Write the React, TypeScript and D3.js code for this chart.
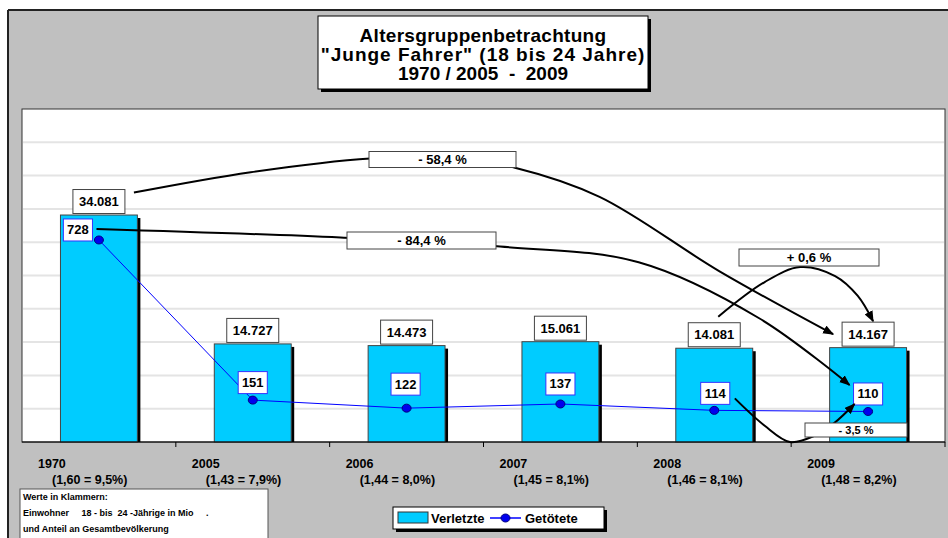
import React from "react";
import * as d3 from "d3";

// Verunglückte junge Fahrer (18-24)
const years = ["1970", "2005", "2006", "2007", "2008", "2009"];
const residents = ["(1,60 = 9,5%)", "(1,43 = 7,9%)", "(1,44 = 8,0%)", "(1,45 = 8,1%)", "(1,46 = 8,1%)", "(1,48 = 8,2%)"];
const injured = [34081, 14727, 14473, 15061, 14081, 14167];
const killed = [728, 151, 122, 137, 114, 110];
const titleLines = ["Altersgruppenbetrachtung", "\"Junge Fahrer\" (18 bis 24 Jahre)", "1970 / 2005  -  2009"];
const changeLabels = ["- 58,4 %", "- 84,4 %", "+ 0,6 %", "- 3,5 %"];
const noteLines = ["Werte in Klammern:", "Einwohner     18 - bis  24 -Jährige in Mio     .", "und Anteil an Gesamtbevölkerung"];
const legendLabels = ["Verletzte", "Getötete"];

const W = 948;
const H = 538;
const plot = { left: 22, right: 945, top: 109, bottom: 442 };
const font = "'Liberation Sans', Arial, Helvetica, sans-serif";
const cyan = "#00ccff";
const blue = "#0000ff";

const de = d3.formatLocale({ decimal: ",", thousands: ".", grouping: [3], currency: ["", " €"] });
const fmt = de.format(",d");

// label box placement for the Getötete values (offset from the point)
const killedShift = [[-21, -10], [0, -17.5], [-1, -24], [0, -20], [1, -17], [0, -17.5]];
const titleSpacing = [0.3, 1, 0];

// percentage boxes: centre, size, font size
const changeBoxes = [
  { cx: 442.5, cy: 159.5, w: 147, h: 16, fs: 13 },
  { cx: 421.5, cy: 240.5, w: 149, h: 17, fs: 13 },
  { cx: 809, cy: 257.5, w: 140, h: 17, fs: 13 },
  { cx: 856, cy: 430, w: 102, h: 14, fs: 11 },
];

export default function App() {
  const x = d3.scaleBand().domain(years).range([plot.left, plot.right]).paddingInner(0.5).paddingOuter(0.25);
  const y = d3.scaleLinear().domain([0, 50000]).range([plot.bottom, plot.top]);
  const y2 = d3.scaleLinear().domain([0, 1200]).range([plot.bottom, plot.top]);
  const bw = x.bandwidth();
  const step = (plot.right - plot.left) / years.length;
  const cx = (yr: string) => (x(yr) as number) + bw / 2;

  const barBox = years.map((yr, i) => {
    const t = fmt(injured[i]);
    const w = 52;
    const bottom = y(injured[i]) - 1.5;
    const c = cx(yr);
    return { t, c, left: c - w / 2, right: c + w / 2, top: bottom - 24, bottom, cy: bottom - 12, w };
  });
  const killBox = years.map((yr, i) => {
    const t = String(killed[i]);
    const w = t.length * 7.2 + 7.5;
    const c = cx(yr) + killedShift[i][0];
    const cy = y2(killed[i]) + killedShift[i][1];
    return { t, c, cy, left: c - w / 2, right: c + w / 2, top: cy - 11, bottom: cy + 11, w };
  });

  // connectors between labels: start, end and bends as [t along chord, offset]
  const connectors = [
    {
      s: [barBox[0].right + 9, barBox[0].cy - 9], e: [barBox[5].left - 9, barBox[5].cy],
      via: [[0.167, -44], [0.338, -82], [0.452, -99], [0.545, -102], [0.666, -90], [0.837, -40]],
    },
    {
      s: [killBox[0].right + 4, killBox[0].cy - 1], e: [killBox[5].left - 4, killBox[5].cy - 9],
      via: [[0.324, -42], [0.536, -66], [0.72, -79], [0.88, -48]],
    },
    {
      s: [barBox[4].c + 4, barBox[4].top - 6], e: [barBox[5].c + 5, barBox[5].top - 1],
      via: [[0.3, -36], [0.529, -52], [0.755, -44], [0.9, -25]],
    },
    {
      s: [killBox[4].right + 5, killBox[4].cy + 5], e: [killBox[5].left + 1, killBox[5].bottom - 1],
      via: [[0.25, 26], [0.46, 41], [0.66, 34], [0.83, 20]],
    },
  ];
  const curve = d3.line().curve(d3.curveCatmullRom.alpha(0.5));
  const connPaths = connectors.map((c) => {
    const dx = c.e[0] - c.s[0];
    const dy = c.e[1] - c.s[1];
    const pts: [number, number][] = [[c.s[0], c.s[1]]];
    c.via.forEach(([t, o]) => pts.push([c.s[0] + t * dx, c.s[1] + t * dy + o]));
    pts.push([c.e[0], c.e[1]]);
    return curve(pts) as string;
  });

  const killedLine = d3.line<number>().x((d, i) => cx(years[i])).y((d) => y2(d))(killed) as string;
  const grid = y.ticks(10).filter((v) => v > 0 && v < 50000);

  const bold = { fontFamily: font, fontWeight: "bold" as const };

  return (
    <div>
      <style>{"body{margin:0}"}</style>
      <svg width={W} height={H} style={{ display: "block" }}>
        <defs>
          <marker id="arr" viewBox="0 0 10 8" refX="9" refY="4" markerWidth="11" markerHeight="9" markerUnits="userSpaceOnUse" orient="auto">
            <path d="M0,0 L10,4 L0,8 z" fill="#000" />
          </marker>
        </defs>
        <rect x={0} y={0} width={W} height={H} fill="#fff" />
        <rect x={8} y={10} width={W} height={H} fill="#c0c0c0" />
        <line x1={8} y1={10} x2={W} y2={10} stroke="#222" strokeWidth={2} />
        <line x1={8} y1={10} x2={8} y2={H} stroke="#222" strokeWidth={2} />

        {/* title */}
        <rect x={321} y={19} width={330} height={73} fill="#000" />
        <rect x={318} y={16} width={330} height={73} fill="#fff" stroke="#000" strokeWidth={1} />
        {titleLines.map((t, i) => (
          <text key={i} x={483} y={41.5 + i * 19.3} textAnchor="middle" fontSize={19}
            letterSpacing={titleSpacing[i]} style={{ ...bold, whiteSpace: "pre" }}>
            {t}
          </text>
        ))}

        {/* plot area */}
        <rect x={plot.left} y={plot.top} width={plot.right - plot.left} height={plot.bottom - plot.top} fill="#fff" stroke="#333" strokeWidth={1} />
        {grid.map((v) => (
          <line key={v} x1={plot.left + 1} x2={plot.right - 1} y1={y(v)} y2={y(v)} stroke="#e4e4e4" strokeWidth={2} />
        ))}

        {/* bars */}
        {years.map((yr, i) => (
          <g key={yr}>
            <rect x={(x(yr) as number) + 3} y={y(injured[i]) + 3} width={bw} height={plot.bottom - y(injured[i]) - 3} fill="#000" />
            <rect x={x(yr)} y={y(injured[i])} width={bw} height={plot.bottom - y(injured[i])} fill={cyan} stroke="#444" strokeWidth={1} />
          </g>
        ))}

        {/* x axis */}
        <line x1={plot.left} x2={plot.right} y1={plot.bottom} y2={plot.bottom} stroke="#000" strokeWidth={1.2} />
        {years.map((yr, i) => (
          <line key={yr} x1={plot.left + (i + 1) * step} x2={plot.left + (i + 1) * step} y1={plot.bottom} y2={plot.bottom + 5} stroke="#000" />
        ))}
        {years.map((yr, i) => (
          <g key={yr} fontSize={12.5} style={bold}>
            <text x={plot.left + i * step + 16} y={468}>{yr}</text>
            <text x={plot.left + i * step + 30} y={484}>{residents[i]}</text>
          </g>
        ))}

        {/* killed line */}
        <path d={killedLine} fill="none" stroke={blue} strokeWidth={1} />
        {killed.map((v, i) => (
          <ellipse key={i} cx={cx(years[i])} cy={y2(v)} rx={4.5} ry={4} fill="#0000ee" stroke="#000080" strokeWidth={1} />
        ))}

        {/* bar value labels */}
        {barBox.map((b, i) => (
          <g key={i}>
            <rect x={b.left} y={b.top} width={b.w} height={24} fill="#fff" stroke="#444" strokeWidth={1} />
            <text x={b.c} y={b.cy + 4.5} textAnchor="middle" fontSize={13} style={bold}>{b.t}</text>
          </g>
        ))}
        {killBox.map((b, i) => (
          <g key={i}>
            <rect x={b.left} y={b.top} width={b.w} height={22} fill="#fff" stroke="#3333ff" strokeWidth={1} />
            <text x={b.c} y={b.cy + 4.5} textAnchor="middle" fontSize={13} style={bold}>{b.t}</text>
          </g>
        ))}

        {/* change connectors */}
        {connPaths.map((d, i) => (
          <path key={i} d={d} fill="none" stroke="#000" strokeWidth={2} markerEnd="url(#arr)" />
        ))}
        {changeBoxes.map((b, i) => (
          <g key={i}>
            <rect x={b.cx - b.w / 2} y={b.cy - b.h / 2} width={b.w} height={b.h} fill="#fff" stroke="#444" strokeWidth={1} />
            <text x={b.cx} y={b.cy + b.fs * 0.36} textAnchor="middle" fontSize={b.fs} style={bold}>{changeLabels[i]}</text>
          </g>
        ))}

        {/* note */}
        <rect x={20} y={489} width={248} height={60} fill="#fff" stroke="#555" strokeWidth={1} />
        {noteLines.map((t, i) => (
          <text key={i} x={23} y={500 + i * 16} fontSize={9} style={{ ...bold, whiteSpace: "pre" }}>{t}</text>
        ))}

        {/* legend */}
        <rect x={396} y={510} width={211} height={22} fill="#000" />
        <rect x={393} y={507} width={211} height={22} fill="#fff" stroke="#000" strokeWidth={1} />
        <rect x={398} y={512} width={30} height={11} fill={cyan} stroke="#333" strokeWidth={1} />
        <text x={431} y={523} fontSize={13} style={bold}>{legendLabels[0]}</text>
        <line x1={490} x2={521} y1={518} y2={518} stroke={blue} strokeWidth={1.5} />
        <ellipse cx={505.5} cy={518} rx={4.5} ry={4} fill="#0000ee" stroke="#000080" />
        <text x={525} y={523} fontSize={13} style={bold}>{legendLabels[1]}</text>
      </svg>
    </div>
  );
}
